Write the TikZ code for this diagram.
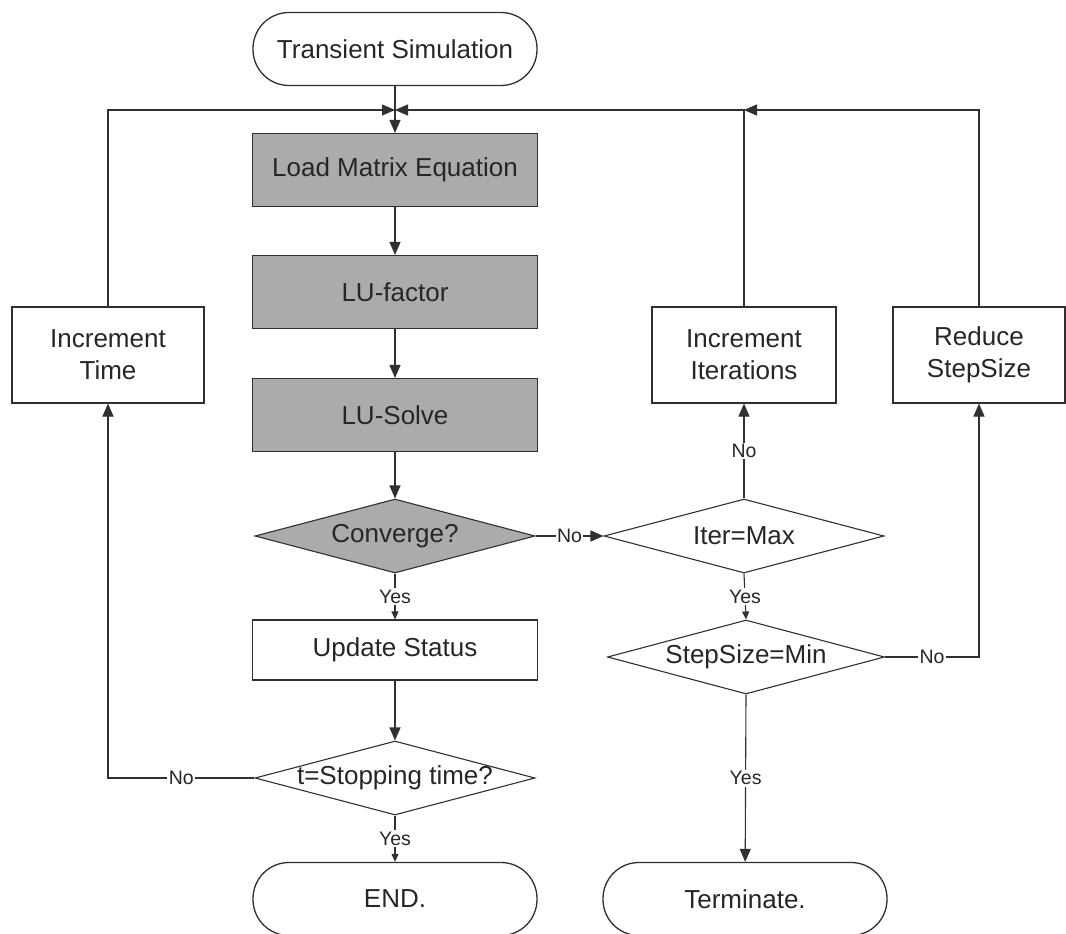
\documentclass[tikz,border=0pt]{standalone}
\usepackage{fontspec}
\setmainfont{Liberation Sans}
\usetikzlibrary{shapes.geometric,arrows.meta,positioning}
\definecolor{ln}{HTML}{303030}
\definecolor{shade}{HTML}{ABABAB}
\tikzset{
  every node/.style={font=\fontsize{26}{32}\selectfont, text=black!85},
  term/.style={draw=ln, line width=1.3pt, rectangle, rounded corners=36pt, minimum width=284pt, minimum height=73pt, inner sep=0pt},
  procbox/.style={draw=ln, line width=1.1pt, rectangle, minimum width=285pt, minimum height=73pt, inner sep=0pt},
  shadebox/.style={procbox, fill=shade},
  sidebox/.style={draw=ln, line width=1.1pt, rectangle, minimum height=96pt, inner sep=0pt, align=center},
  dia/.style={draw=ln, line width=1.1pt, diamond, minimum width=280pt, minimum height=74pt, inner sep=0pt},
  lbl/.style={font=\fontsize{19.5}{22}\selectfont, fill=white, inner sep=1.5pt},
  conn/.style={draw=ln, line width=1.1pt},
  arr/.style={conn, -{Triangle[length=13pt,width=11pt]}},
  sarr/.style={conn, -{Triangle[length=8pt,width=7pt]}},
}
\begin{document}
\begin{tikzpicture}[x=1pt,y=-1pt]
\useasboundingbox (0,0) rectangle (1066,934);
% main column
\node[term] (ts) at (395,49) {Transient Simulation};
\node[shadebox] (lme) at (395,170) {Load Matrix Equation};
\node[shadebox] (luf) at (395,292) {LU-factor};
\node[shadebox] (lus) at (395,415) {LU-Solve};
\node[dia, fill=shade, label={center:Converge?}] (cv) at (395,536) {};
\node[procbox, minimum height=60pt] (us) at (395,650) {Update Status};
\node[dia, label={center:t=Stopping time?}] (st) at (395,778) {};
\node[term] (en) at (395,899) {END.};
% right column
\node[dia, label={center:Iter=Max}] (im) at (744,536) {};
\node[dia, minimum width=277pt, label={center:StepSize=Min}] (sm) at (746,657) {};
\node[term] (tm) at (745,899) {Terminate.};
% side boxes
\node[sidebox, minimum width=192pt] (it) at (108,355) {Increment\\Time};
\node[sidebox, minimum width=184pt] (ii) at (744,355) {Increment\\Iterations};
\node[sidebox, minimum width=172pt] (rs) at (979,355) {Reduce\\StepSize};
% junctions
\coordinate (m) at (395,110);
\coordinate (m2) at (744,110);
% connectors
\draw[arr] (ts) -- (lme);
\draw[arr] (lme) -- (luf);
\draw[arr] (luf) -- (lus);
\draw[arr] (lus) -- (cv.north);
\draw[sarr] (cv.south) -- node[lbl]{Yes} (us);
\draw[arr] (us) -- (st.north);
\draw[sarr] (st.south) -- node[lbl]{Yes} (en);
\draw[arr] (st.west) -- node[lbl]{No} (st.west -| it.south) -- (it.south);
\draw[arr] (it.north) |- (m);
\draw[arr] (cv.east) -- node[lbl]{No} (im.west);
\draw[arr] (im.north) -- node[lbl]{No} (ii.south);
\draw[arr] (ii.north) |- (m);
\draw[sarr] (im.south) -- node[lbl]{Yes} (sm.north);
\draw[arr] (sm.south) -- node[lbl]{Yes} (tm);
\draw[arr] (sm.east) -- node[lbl]{No} (sm.east -| rs.south) -- (rs.south);
\draw[arr] (rs.north) |- (m2);
\end{tikzpicture}
\end{document}
